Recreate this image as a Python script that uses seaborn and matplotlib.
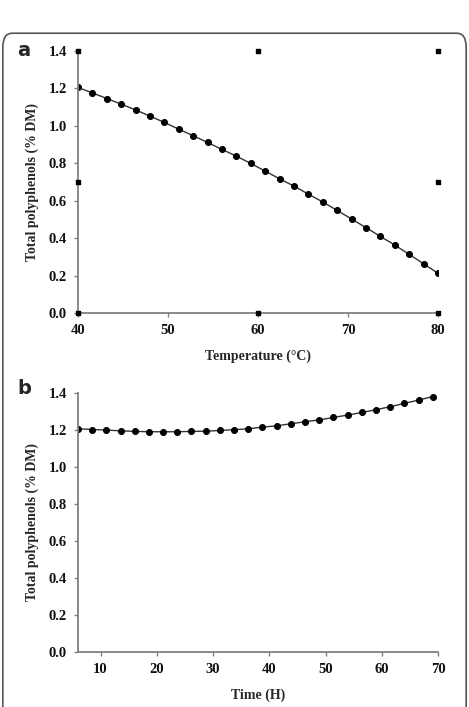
import numpy as np
import pandas as pd
import matplotlib
matplotlib.use("Agg")
import matplotlib.pyplot as plt
import seaborn as sns
from matplotlib.patches import FancyBboxPatch

# Panel a: polyphenols vs temperature
temperature = [40.0, 41.6, 43.2, 44.8, 46.4, 48.0, 49.6, 51.2, 52.8, 54.4, 56.0, 57.6, 59.2,
               60.8, 62.4, 64.0, 65.6, 67.2, 68.8, 70.4, 72.0, 73.6, 75.2, 76.8, 78.4, 80.0]
poly_temp = [1.205, 1.176, 1.146, 1.116, 1.085, 1.052, 1.018, 0.982, 0.947, 0.911, 0.874, 0.838, 0.799,
             0.758, 0.717, 0.678, 0.635, 0.593, 0.548, 0.502, 0.456, 0.409, 0.363, 0.313, 0.263, 0.212]

# Panel b: polyphenols vs time
time_h = [6.0, 8.52, 11.04, 13.56, 16.08, 18.6, 21.12, 23.64, 26.16, 28.68, 31.2, 33.72, 36.24,
          38.76, 41.28, 43.8, 46.32, 48.84, 51.36, 53.88, 56.4, 58.92, 61.44, 63.96, 66.48, 69.0]
poly_time = [1.205, 1.201, 1.198, 1.194, 1.191, 1.189, 1.189, 1.189, 1.191, 1.192, 1.196, 1.200, 1.205,
             1.214, 1.221, 1.232, 1.243, 1.253, 1.266, 1.279, 1.293, 1.308, 1.324, 1.342, 1.360, 1.379]

# selection handles left in the original figure (panel a)
handle_x = [40, 60, 80, 40, 80, 40, 60, 80]
handle_y = [1.4, 1.4, 1.4, 0.7, 0.7, 0.0, 0.0, 0.0]

sns.set_style("ticks")
plt.rcParams['font.family'] = ['Liberation Serif', 'DejaVu Serif']

df_a = pd.DataFrame({'Temperature': temperature, 'Polyphenols': poly_temp})
df_b = pd.DataFrame({'Time': time_h, 'Polyphenols': poly_time})

fig = plt.figure(figsize=(4.69, 7.07), dpi=100)

# rounded frame
frame = FancyBboxPatch((0.006, -0.05), 0.988, 1.003, boxstyle="round,pad=0,rounding_size=0.02",
                       transform=fig.transFigure, fill=False, edgecolor='#555555', linewidth=1.2)
fig.patches.append(frame)

ax_a = fig.add_axes([0.1663, 0.5573, 0.7676, 0.3706])
ax_b = fig.add_axes([0.1663, 0.0778, 0.7683, 0.3668])

sns.lineplot(data=df_a, x='Temperature', y='Polyphenols', ax=ax_a, color='#333333', linewidth=1.0,
             marker='o', markersize=4.3, markerfacecolor='black', markeredgecolor='black')
ax_a.scatter(handle_x, handle_y, marker='s', s=7, color='black', clip_on=False, zorder=5)

sns.lineplot(data=df_b, x='Time', y='Polyphenols', ax=ax_b, color='#333333', linewidth=1.0,
             marker='o', markersize=4.3, markerfacecolor='black', markeredgecolor='black')

for ax, xlim, xticks, xlabel in [(ax_a, (40, 80), [40, 50, 60, 70, 80], 'Temperature (°C)'),
                                 (ax_b, (6, 70), [10, 20, 30, 40, 50, 60, 70], 'Time (H)')]:
    ax.set_xlim(*xlim)
    ax.set_ylim(0, 1.4)
    ax.set_xticks(xticks)
    ax.set_xticklabels([str(t) for t in xticks], fontweight='bold', fontsize=10.5)
    yt = [0.0, 0.2, 0.4, 0.6, 0.8, 1.0, 1.2, 1.4]
    ax.set_yticks(yt)
    ax.set_yticklabels([f'{v:.1f}' for v in yt], fontweight='bold', fontsize=10.5)
    ax.set_xlabel(xlabel, fontweight='bold', fontsize=10, labelpad=9)
    ax.set_ylabel('Total polyphenols (% DM)', fontweight='bold', fontsize=10, labelpad=7)
    for s in ['top', 'right']:
        ax.spines[s].set_visible(False)
    for s in ['left', 'bottom']:
        ax.spines[s].set_color('#808080')
        ax.spines[s].set_linewidth(1.3)
    ax.tick_params(axis='both', direction='out', length=3, color='#808080', width=1, pad=5, labelcolor='#111111')

fig.text(0.036, 0.928, 'a', fontsize=14, fontweight='bold', family='DejaVu Sans', va='center')
fig.text(0.036, 0.451, 'b', fontsize=14, fontweight='bold', family='DejaVu Sans', va='center')

fig.savefig('out.png', dpi=100)
